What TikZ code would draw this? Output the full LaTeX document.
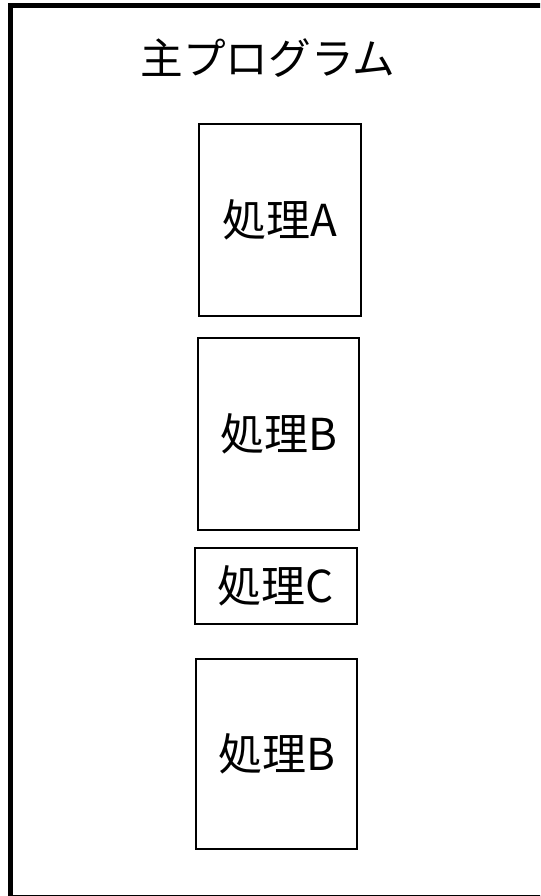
\documentclass[tikz,border=0pt]{standalone}
\usepackage{fontspec}
\setmainfont{Noto Sans CJK JP}
\usetikzlibrary{positioning}

\tikzset{
    proc/.style={draw, line width=1.5pt, minimum width=121pt, inner sep=0pt,
                 font=\fontsize{33}{38}\selectfont},
}

\begin{document}
\begin{tikzpicture}[x=0.75pt, y=-0.75pt, node distance=15pt]
    \useasboundingbox (0,0) rectangle (540,896);
    \clip (0,0) rectangle (540,896);
    \draw[line width=3.75pt] (10,5) rectangle (546,897);

    \node (title) at (268,58) {\fontsize{32}{38}\selectfont 主プログラム};
    \node[proc, minimum height=144pt] (procA) at (280,220) {処理A};
    \node[proc, minimum height=144pt] (procB)[below=15pt of procA, xshift=-1pt] {処理B};
    \node[proc, minimum height=57pt] (procC)[below=12pt of procB, xshift=-2pt] {処理C};
    \node[proc, minimum height=142pt] (procB2)[below=25pt of procC, xshift=0.5pt] {処理B};

\end{tikzpicture}
\end{document}
